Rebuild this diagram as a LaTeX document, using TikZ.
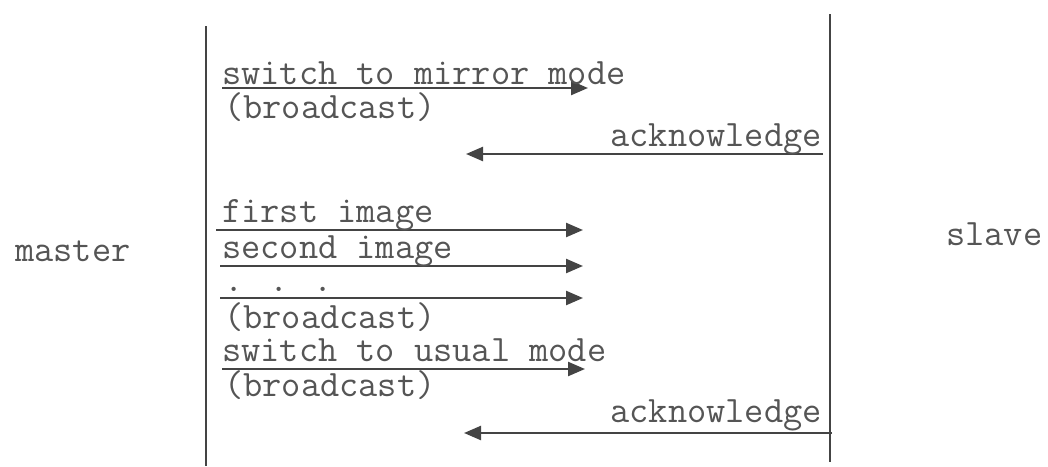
\documentclass[tikz,border=0pt]{standalone}
\usepackage{fontspec}
\usetikzlibrary{arrows.meta}
\definecolor{ink}{HTML}{444444}
\definecolor{txt}{HTML}{555555}
\tikzset{
  lbl/.style={anchor=base west, inner sep=0pt, text=txt, font=\fontsize{37.3}{40}\ttfamily},
  rlbl/.style={lbl, anchor=base east},
  lifeline/.style={draw=ink, line width=2pt},
  msg/.style={draw=ink, line width=2.4pt, -{Triangle[length=17pt,width=14pt]}},
}
\begin{document}
\begin{tikzpicture}[x=1pt,y=-1pt]
\useasboundingbox (0,0) rectangle (1048,466);

% side labels
\node[lbl] (master) at (15,261) {master};
\node[lbl] (slave) at (946,245) {slave};

% the two lifelines
\coordinate (lt) at (206,26);
\coordinate (lb) at (206,466);
\coordinate (rt) at (830,14);
\coordinate (rb) at (830,462);
\draw[lifeline] (lt) -- (lb);
\draw[lifeline] (rt) -- (rb);

% message end points
\coordinate (a1) at (222,88);  \coordinate (b1) at (588,88);
\coordinate (a2) at (823,154); \coordinate (b2) at (466,154);
\coordinate (a3) at (216,230); \coordinate (b3) at (583,230);
\coordinate (a4) at (220,266); \coordinate (b4) at (583,266);
\coordinate (a5) at (220,298); \coordinate (b5) at (583,298);
\coordinate (a6) at (222,369); \coordinate (b6) at (585,369);
\coordinate (a7) at (832,433); \coordinate (b7) at (464,433);

% messages
\draw[msg] (a1) -- (b1);
\draw[msg] (a2) -- (b2);
\draw[msg] (a3) -- (b3);
\draw[msg] (a4) -- (b4);
\draw[msg] (a5) -- (b5);
\draw[msg] (a6) -- (b6);
\draw[msg] (a7) -- (b7);

% message texts
\node[lbl] (t1) at (222,84) {switch to mirror mode};
\node[lbl] (t1b) at (224,118) {(broadcast)};
\node[rlbl] (t2) at (822,146) {acknowledge};
\node[lbl] (t3) at (222,222) {first image};
\node[lbl] (t4) at (222,258) {second image};
\node[lbl] (t5) at (224,291) {. . .};
\node[lbl] (t5b) at (224,328) {(broadcast)};
\node[lbl] (t6) at (222,361) {switch to usual mode};
\node[lbl] (t6b) at (224,396) {(broadcast)};
\node[rlbl] (t7) at (822,422) {acknowledge};
\end{tikzpicture}
\end{document}
